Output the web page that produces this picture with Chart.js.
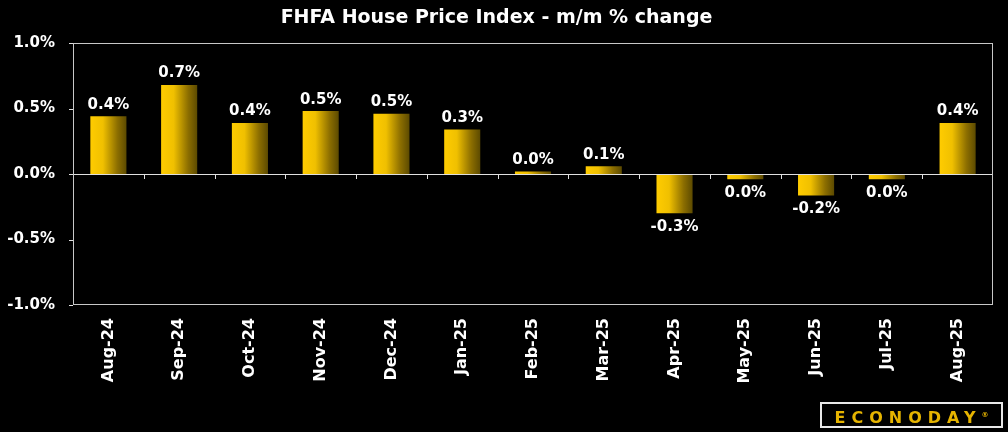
<!DOCTYPE html>
<html>
<head>
<meta charset="utf-8">
<script src="https://cdn.jsdelivr.net/npm/chart.js@4"></script>
<style>
	html, body { margin: 0; padding: 0; background: #000; }
	#wrap { position: relative; width: 1008px; height: 432px; }
	#logo {
		position: absolute; left: 820px; top: 402px; width: 179px; height: 22px;
		border: 2px solid #e8e8e8; color: #e6b400; font: bold 16px "DejaVu Sans", sans-serif;
		letter-spacing: 6px; line-height: 22px; text-align: center;
	}
	#logo sup { font-size: 7px; letter-spacing: 0; }
</style>
</head>
<body>
<div id="wrap">
	<canvas id="hpi_chart" width="1008" height="432"></canvas>
	<div id="logo">ECONODAY<sup>®</sup></div>
</div>
<script>
const months = ['Aug-24', 'Sep-24', 'Oct-24', 'Nov-24', 'Dec-24', 'Jan-25', 'Feb-25', 'Mar-25', 'Apr-25', 'May-25', 'Jun-25', 'Jul-25', 'Aug-25'];
const mom_change = [0.44, 0.68, 0.39, 0.48, 0.46, 0.34, 0.02, 0.06, -0.30, -0.04, -0.165, -0.04, 0.39];
const value_labels = ['0.4%', '0.7%', '0.4%', '0.5%', '0.5%', '0.3%', '0.0%', '0.1%', '-0.3%', '0.0%', '-0.2%', '0.0%', '0.4%'];
const y_ticks = [-1.0, -0.5, 0.0, 0.5, 1.0];

const bar_ratio = 0.51;
const label_font = 'bold 15px "DejaVu Sans", sans-serif';

// horizontal yellow -> dark gold gradient for each bar
function bar_gradient(context) {
	const chart = context.chart;
	const x_scale = chart.scales.x;
	if (!chart.chartArea || !x_scale) return '#f5c400';
	const center = x_scale.getPixelForValue(context.dataIndex);
	const half = (chart.chartArea.width / months.length) * bar_ratio / 2;
	const g = chart.ctx.createLinearGradient(center - half, 0, center + half, 0);
	g.addColorStop(0, '#ffcc00');
	g.addColorStop(0.35, '#f0c000');
	g.addColorStop(0.75, '#8c6e00');
	g.addColorStop(1, '#5c4a00');
	return g;
}

const frame_and_labels = {
	id: 'frame_and_labels',
	afterDatasetsDraw(chart) {
		const ctx = chart.ctx;
		const area = chart.chartArea;
		const x = chart.scales.x;
		const y = chart.scales.y;
		const zero = y.getPixelForValue(0);
		const step = area.width / months.length;
		ctx.save();
		// zero line and small ticks below it
		ctx.strokeStyle = '#e0e0e0';
		ctx.lineWidth = 1;
		ctx.beginPath();
		ctx.moveTo(area.left, zero + 0.5);
		ctx.lineTo(area.right, zero + 0.5);
		for (let i = 1; i < months.length; i++) {
			const px = Math.round(x.getPixelForValue(i) - step / 2) + 0.5;
			ctx.moveTo(px, zero);
			ctx.lineTo(px, zero + 5);
		}
		// short marks on the left edge
		y_ticks.forEach(v => {
			const py = Math.round(y.getPixelForValue(v)) + 0.5;
			ctx.moveTo(area.left - 4, py);
			ctx.lineTo(area.left, py);
		});
		ctx.stroke();
		// frame
		ctx.strokeStyle = '#c8c8c8';
		ctx.strokeRect(area.left + 0.5, area.top + 0.5, area.width - 1, area.height - 1);
		// value labels
		ctx.font = label_font;
		ctx.fillStyle = '#ffffff';
		ctx.textAlign = 'center';
		const meta = chart.getDatasetMeta(0);
		meta.data.forEach((bar, i) => {
			if (mom_change[i] >= 0) {
				ctx.textBaseline = 'bottom';
				ctx.fillText(value_labels[i], bar.x, bar.y - 4);
			} else {
				ctx.textBaseline = 'top';
				ctx.fillText(value_labels[i], bar.x, bar.y + 6);
			}
		});
		ctx.restore();
	}
};

const hpi_chart = new Chart(
	document.getElementById('hpi_chart').getContext('2d'),
	{
		type: 'bar',
		data: {
			labels: months,
			datasets: [{
				data: mom_change,
				backgroundColor: bar_gradient,
				borderWidth: 0,
				categoryPercentage: 1,
				barPercentage: bar_ratio
			}]
		},
		options: {
			responsive: false,
			animation: false,
			layout: { padding: { left: 0, right: 15, top: 0, bottom: 0 } },
			scales: {
				x: {
					grid: { display: false },
					border: { display: false },
					ticks: {
						color: '#ffffff',
						font: { family: '"DejaVu Sans", sans-serif', size: 16, weight: 'bold' },
						minRotation: 90,
						maxRotation: 90,
						padding: 5
					},
					afterFit(scale) { scale.height = 127; }
				},
				y: {
					min: -1,
					max: 1,
					afterBuildTicks(scale) { scale.ticks = y_ticks.map(v => ({ value: v })); },
					grid: { display: false },
					border: { display: false },
					ticks: {
						color: '#ffffff',
						font: { family: '"DejaVu Sans", sans-serif', size: 15, weight: 'bold' },
						padding: 10,
						callback: v => v.toFixed(1) + '%'
					},
					afterFit(scale) { scale.width = 73; }
				}
			},
			plugins: {
				legend: { display: false },
				tooltip: { enabled: false },
				title: {
					display: true,
					text: 'FHFA House Price Index - m/m % change',
					color: '#ffffff',
					font: { family: '"DejaVu Sans", sans-serif', size: 19, weight: 'bold' },
					padding: { top: 7, bottom: 13.2 }
				}
			}
		},
		plugins: [frame_and_labels]
	}
);
</script>
</body>
</html>
